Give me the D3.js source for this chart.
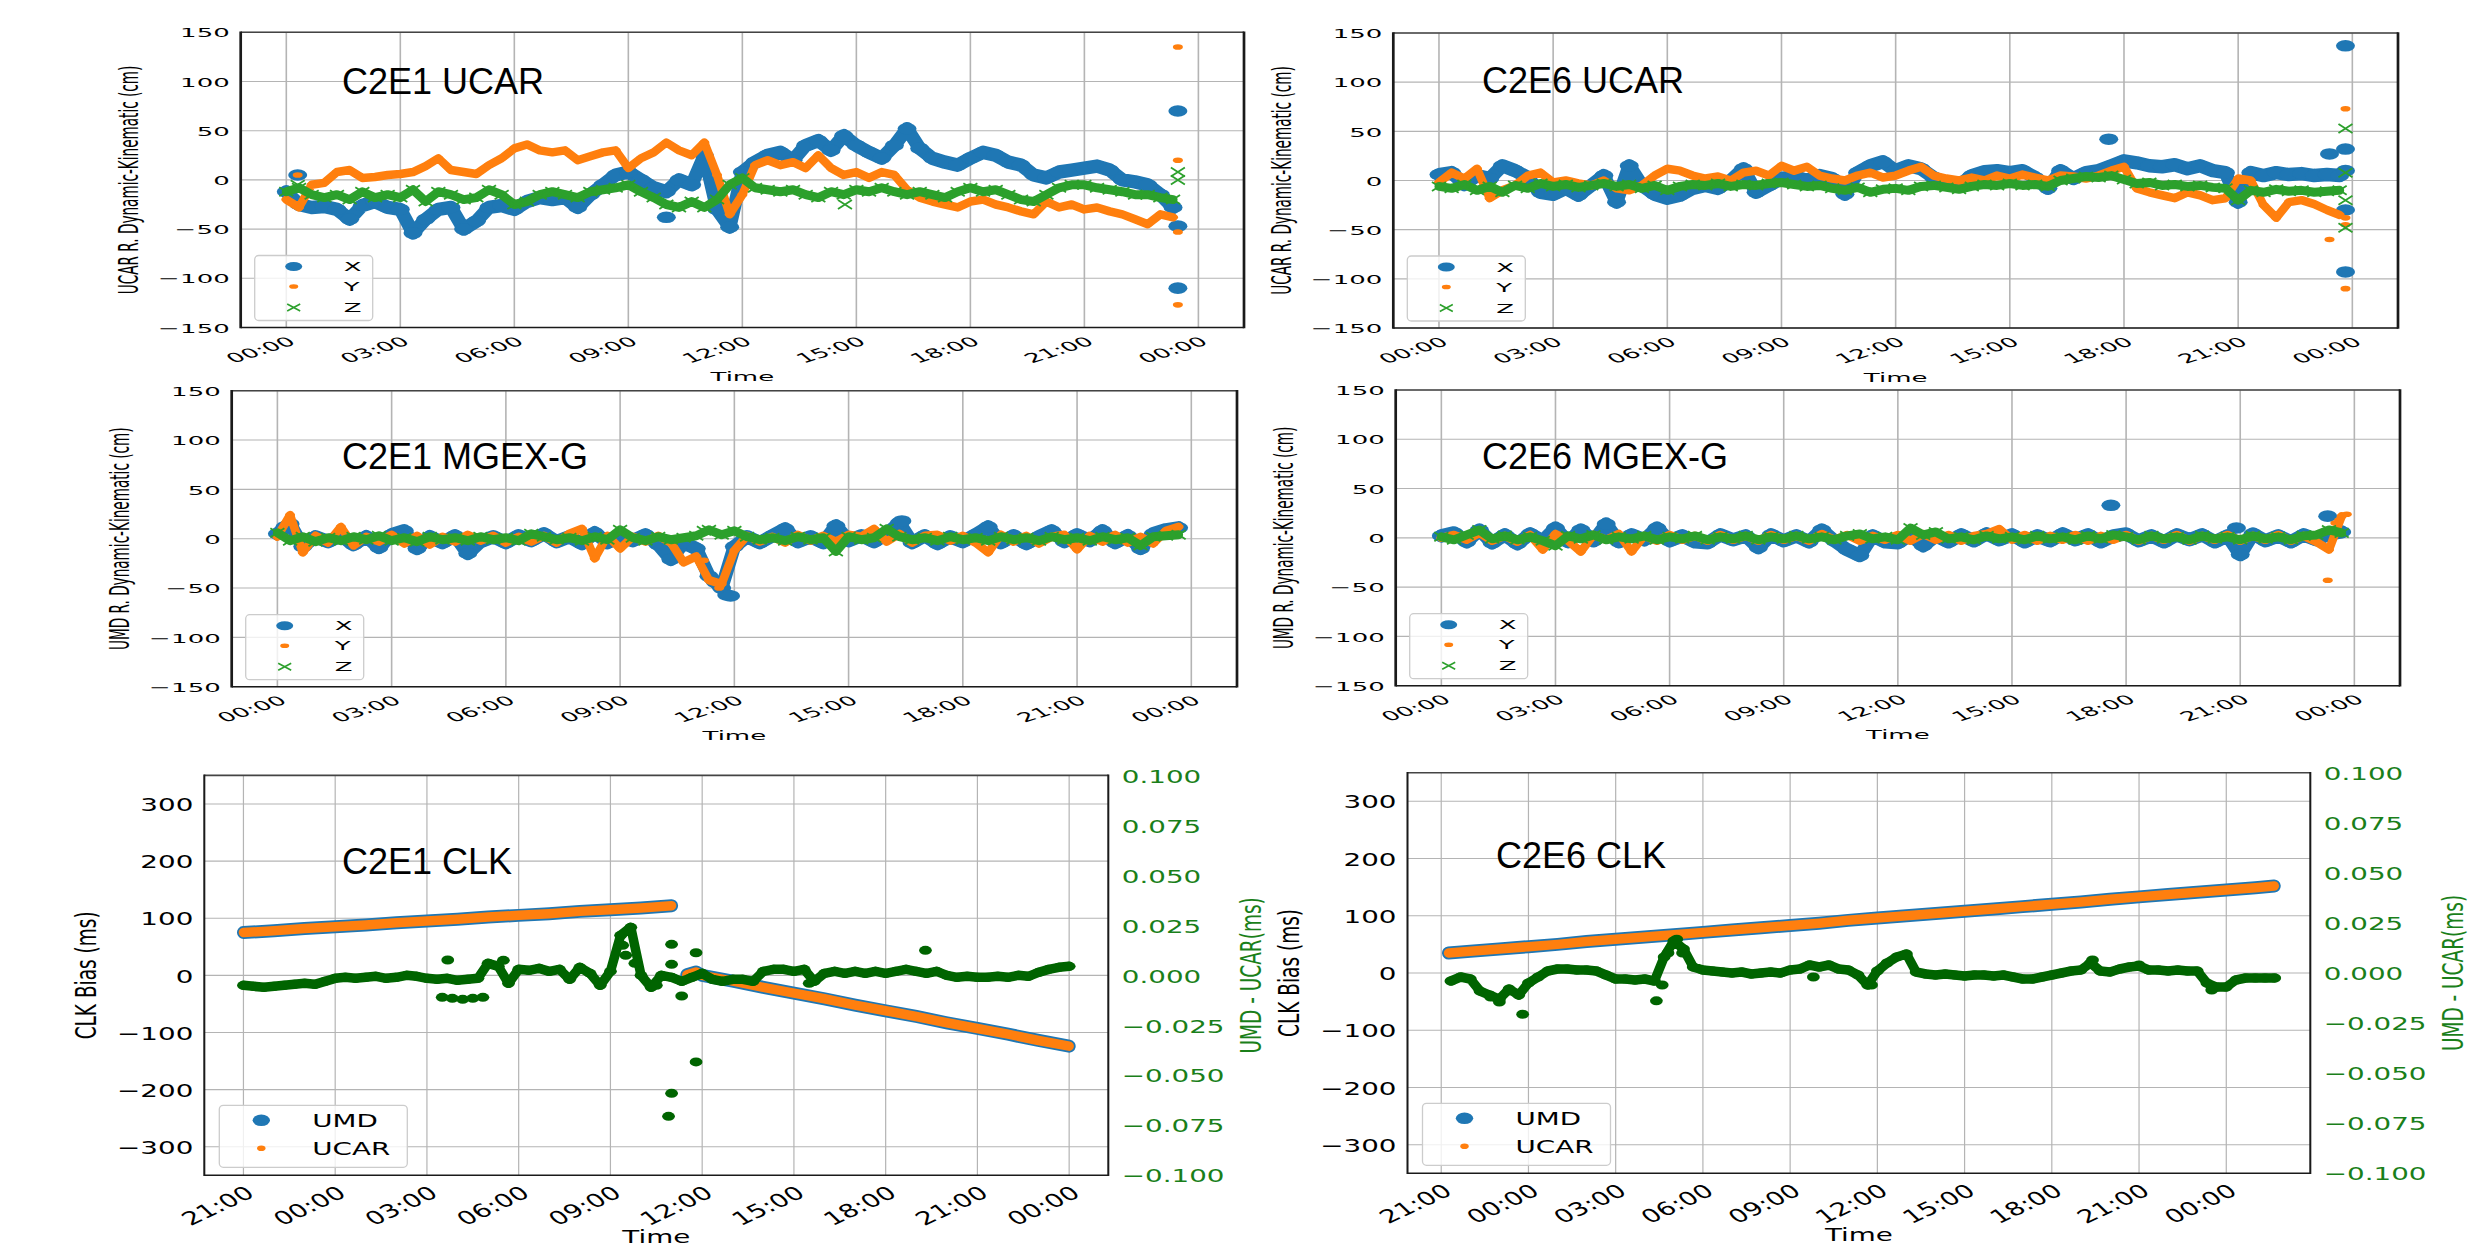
<!DOCTYPE html>
<html>
<head>
<meta charset="utf-8">
<script src="https://cdn.jsdelivr.net/npm/d3@7"></script>
<style>
  body { margin: 0; background: #fff; overflow: hidden; }
  svg { display: block; }
</style>
</head>
<body>
<script>
// ---------------- data ----------------
// orbit residuals: one sample every 20 min from 00:00 (cm)
const STEP_H = 1 / 3;

const c2e1UcarX = [-12, -25, -28, -27, -30, -40, -26, -22, -28, -30, -54, -40,
  -30, -28, -50, -42, -28, -26, -30, -22, -18, -20, -18, -28,
  -15, -5, 5, 8, 0, -8, -12, 0, -5, 25, -30, -48,
  8, 18, 25, 28, 20, 35, 40, 30, 45, 35, 28, 22,
  35, 52, 32, 22, 18, 15, 22, 28, 25, 18, 15, 5,
  2, 8, 10, 12, 14, 10, 0, -2, -5, -15, -28];
const c2e1UcarY = [-20, -28, -5, -3, 8, 10, 2, 3, 5, 6, 8, 14,
  22, 10, 8, 6, 15, 22, 32, 36, 30, 28, 30, 20,
  24, 28, 30, 12, 22, 28, 38, 30, 25, 38, 5, -35,
  -15, 15, 20, 15, 18, 12, 25, 12, 5, 8, 2, 8,
  5, -10, -18, -22, -25, -28, -22, -20, -25, -28, -32, -35,
  -22, -28, -25, -30, -28, -32, -35, -40, -45, -35, -38];
const c2e1UcarZ = [-12, -8, -15, -18, -15, -20, -12, -18, -15, -18, -10, -22,
  -12, -15, -20, -18, -10, -15, -25, -22, -15, -12, -15, -18,
  -12, -10, -8, -5, -12, -18, -25, -28, -22, -28, -20, -5,
  2, -8, -10, -12, -10, -15, -18, -12, -15, -10, -12, -8,
  -12, -15, -12, -15, -18, -12, -8, -12, -10, -15, -20, -22,
  -15, -8, -5, -5, -8, -10, -12, -15, -15, -18, -20];
// isolated points [hour, cm]
const c2e1UcarOutX = [[0.3, 5], [10.0, -38], [23.46, 70], [23.46, -47], [23.46, -110]];
const c2e1UcarOutY = [[0.3, 5], [23.46, 135], [23.46, 20], [23.46, -53], [23.46, -127]];
const c2e1UcarOutZ = [[0.3, -5], [14.7, -25], [23.46, 8], [23.46, 0]];

const c2e6UcarX = [6, 8, -4, 5, 2, 15, 10, 3, -12, -14, -8, -15,
  -5, 5, -22, 15, -5, -14, -18, -15, -8, -5, -8, 0,
  12, -12, -5, 2, 4, 0, 5, 2, -14, 8, 15, 19,
  10, 15, 12, 3, -3, -5, 5, 9, 10, 8, 10, 3,
  -8, 10, 2, 8, 10, 15, 20, 18, 15, 14, 16, 12,
  15, 10, 8, -22, 8, 5, 8, 6, 7, 5, 6, 5];
const c2e6UcarY = [-2, 8, 2, 12, -18, -10, -5, 5, 8, -2, 0, -3,
  -5, 0, -8, -10, -5, 5, 12, 10, 5, 2, 4, 0,
  8, 10, 5, 15, 10, 14, 5, 2, 0, 5, 8, 3,
  5, 10, 14, 5, 2, 0, 3, 0, 5, 2, 6, 3,
  0, 5, 4, 2, 5, 10, 14, -8, -12, -15, -18, -12,
  -15, -20, -18, 2, 0, -25, -38, -22, -20, -24, -30, -35];
const c2e6UcarZ = [-6, -8, -4, -10, -6, -12, -5, -8, -3, -6, -4, -7,
  -5, -3, -6, -4, -8, -5, -10, -6, -4, -5, -3, -6,
  -4, -5, -3, -2, -4, -6, -5, -8, -10, -7, -12, -9,
  -8, -10, -6, -5, -7, -9, -6, -4, -5, -3, -5, -4,
  -6, 0, 2, 4, 3, 5, 1, -3, -2, -5, -4, -6,
  -5, -7, -8, -20, -10, -12, -9, -11, -10, -12, -11, -10];
const c2e6UcarOutX = [[17.6, 42], [23.4, 27], [23.82, 137], [23.82, 32], [23.82, 10], [23.82, -30], [23.82, -93]];
const c2e6UcarOutY = [[23.4, -60], [23.82, 73], [23.82, -38], [23.82, -45], [23.82, -110]];
const c2e6UcarOutZ = [[23.82, 53], [23.82, 8], [23.82, -20], [23.82, -48]];

const c2e1MgexX = [5, 15, -8, 2, -3, 3, -6, 2, -9, 4, 8, -10,
  2, -4, 3, -15, -3, 2, -4, 3, -2, 5, -3, 2,
  -5, 6, -4, 3, -2, 4, -6, -21, -4, -10, -38, -50,
  -8, 2, -4, 3, 10, -3, 2, -4, 13, -2, 3, -3,
  5, 16, -4, 3, -5, 2, -3, 4, 12, -4, 3, -5,
  2, 8, -3, 4, -2, 8, -4, 3, -10, 5, 9, 11];
const c2e1MgexY = [2, 24, -14, 3, -4, 12, -7, 2, -3, 4, -5, 3,
  -6, 2, -3, 4, -2, 3, -4, 2, -3, 3, -4, 5,
  10, -20, 3, -10, 2, -3, 3, -4, -24, -18, -42, -46,
  -12, 3, -3, 2, -4, 4, -2, 3, -3, 4, 2, 10,
  -3, 5, -4, 3, 4, -2, 3, -4, -14, 4, -3, 3,
  -5, 2, 4, -11, 3, -3, 4, -4, 2, -5, 8, 12];
const c2e1MgexZ = [6, -2, 2, -3, 1, -2, 2, -1, 3, -2, 1, -3,
  2, -1, 1, -2, 2, -1, 1, -2, 5, 2, -1, 1,
  -2, 2, -1, 9, 1, -2, 2, -1, 1, 3, 9, 4,
  8, 2, -1, 1, -2, 2, -1, 1, -13, 2, -1, 1,
  10, 2, -1, 1, -2, 2, -1, 1, -2, 2, -1, 1,
  -2, 2, -1, 1, -2, 2, -1, 1, -7, 2, 3, 4];
const c2e1MgexOutX = [[0.2, 12], [11.5, -44], [11.8, -57], [11.9, -58], [16.4, 18]];
const c2e1MgexOutY = [[11.2, -22], [11.6, -50]];
const c2e1MgexOutZ = [[11.2, 8]];

const c2e6MgexX = [2, 5, -4, 8, -5, 3, -6, 4, -3, 10, -4, 8,
  -3, 14, -4, 3, -2, 10, -3, 2, -4, -5, 3, -2,
  2, -10, 3, -3, 2, -4, 8, -3, -12, -18, 2, -4,
  -5, 3, -8, 2, -4, 3, -3, 4, -2, 3, -4, 2,
  -3, 4, -2, 3, -4, 2, 4, -3, 2, -4, 3, -2,
  3, -4, 2, -17, 4, -3, 2, -4, 3, -2, 4, 6];
const c2e6MgexY = [0, 3, -2, 5, -3, 2, -4, 3, -12, 4, -3, -14,
  3, -2, 4, -14, 2, -3, 3, -2, 2, -3, 3, -2,
  2, -3, 3, -2, 2, -3, 4, -2, 3, -3, 2, -2,
  3, -3, 4, -2, 3, -3, 2, 4, 9, -2, 3, -3,
  2, -2, 3, -3, 2, -2, 3, -3, 2, -2, 3, -3,
  2, -2, 3, -3, 2, -2, 3, -3, 2, -4, -12, 22];
const c2e6MgexZ = [1, -2, 3, 8, -1, 2, -2, 1, -3, -8, 2, -1,
  3, -2, 1, -1, 2, -2, 1, -1, 2, -2, 1, -1,
  2, -2, 1, -1, 2, -1, 1, -2, 2, 4, -1, 1,
  -2, 10, 3, 6, -1, 1, -2, 2, -1, 1, -2, 2,
  -1, 1, -2, 2, -1, 3, 1, -2, 2, -1, 1, -2,
  2, -1, 1, -2, 2, -1, 1, -2, 2, 3, 8, 5];
const c2e6MgexOutX = [[17.6, 33], [20.9, 10], [23.3, 22]];
const c2e6MgexOutY = [[23.3, -43], [23.5, 15], [23.6, 18], [23.8, 24]];
const c2e6MgexOutZ = [];

// clock bias lines (ms), hours after 21:00 of the first day
const c2e1ClkHours1 = [0, 1, 2, 3, 4, 5, 6, 7, 8, 9, 10, 11, 12, 13, 14];
const c2e1ClkUmd1 = [75, 78, 82, 85, 88, 92, 95, 98, 102, 105, 108, 112, 115, 118, 122];
const c2e1ClkUcar1 = [75, 78, 82, 85, 88, 92, 95, 98, 102, 105, 108, 112, 115, 118, 122];
const c2e1ClkHours2 = [14.5, 14.8, 15, 16, 17, 18, 19, 20, 21, 22, 23, 24, 25, 26, 27];
const c2e1ClkUmd2 = [1, 6, 0, -10, -21, -31, -41, -52, -62, -72, -83, -93, -103, -114, -124];
const c2e1ClkUcar2 = [1, 6, 0, -10, -21, -31, -41, -52, -62, -72, -83, -93, -103, -114, -124];

const c2e6ClkHours = [0.25, 1, 2, 3, 4, 5, 6, 7, 8, 9, 10, 11, 12, 13, 14, 15,
  16, 17, 18, 19, 20, 21, 22, 23, 24, 25, 26, 27, 28, 28.65];
const c2e6ClkUmd = [35, 38, 42, 46, 50, 55, 59, 63, 67, 71, 75, 79, 83, 87, 92,
  96, 100, 104, 108, 112, 116, 120, 124, 129, 133, 137, 141, 145, 149, 152];
const c2e6ClkUcar = [35, 38, 42, 46, 50, 55, 59, 63, 67, 71, 75, 79, 83, 87, 92,
  96, 100, 104, 108, 112, 116, 120, 124, 129, 133, 137, 141, 145, 149, 152];

// UMD - UCAR difference (ms), one sample every 20 min
const c2e1ClkDiff = [-0.0050, -0.0055, -0.0060, -0.0055, -0.0050, -0.0045, -0.0040, -0.0045, -0.0030, -0.0015, -0.0010, -0.0015,
  -0.0010, -0.0005, -0.0015, -0.0010, 0.0000, -0.0005, -0.0015, -0.0020, -0.0015, -0.0025, -0.0020, -0.0015,
  0.0060, 0.0045, -0.0040, 0.0030, 0.0025, 0.0035, 0.0020, 0.0030, -0.0020, 0.0040, 0.0010, -0.0050,
  0.0020, 0.0200, 0.0240, 0.0000, -0.0060, 0.0000, -0.0010, -0.0030, -0.0010, 0.0010, -0.0020, -0.0030,
  -0.0020, -0.0020, -0.0030, 0.0020, 0.0030, 0.0030, 0.0020, 0.0030, -0.0030, 0.0010, 0.0020, 0.0010,
  0.0020, 0.0010, 0.0020, 0.0010, 0.0020, 0.0030, 0.0020, 0.0010, 0.0020, 0.0000, -0.0010, -0.0005,
  -0.0010, -0.0010, -0.0005, -0.0010, 0.0000, -0.0005, 0.0015, 0.0030, 0.0040, 0.0045];
const c2e1ClkDiffOut = [[6.68, 0.0077], [6.5, -0.0110], [6.83, -0.0115], [7.17, -0.0120], [7.5, -0.0115],
  [7.83, -0.0110], [8.5, 0.0075], [12.4, 0.015], [12.5, 0.010], [12.6, 0.022], [12.8, 0.006],
  [13.5, -0.005], [14.0, 0.0155], [14.0, 0.0055], [14.0, -0.059], [13.9, -0.0705], [14.33, -0.0103],
  [14.8, -0.0433], [14.8, 0.0113], [18.5, -0.004], [22.3, 0.0125]];

const c2e6ClkDiffStart = 1 / 3;
const c2e6ClkDiff = [-0.004, -0.002, -0.003, -0.009, -0.011, -0.013, -0.008, -0.011, -0.005, -0.002, 0.001, 0.002,
  0.002, 0.0015, 0.0015, 0.001, -0.001, -0.003, -0.003, -0.0035, -0.003, -0.004, 0.008, 0.016,
  0.012, 0.003, 0.0015, 0.001, 0.0005, 0.0, 0.0005, -0.0005, 0.0, 0.0005, 0.0, 0.0015,
  0.002, 0.004, 0.003, 0.004, 0.002, 0.0015, -0.001, -0.006, 0.001, 0.005, 0.008, 0.0095,
  0.0005, -0.0005, -0.001, -0.0005, -0.001, -0.0015, -0.001, -0.001, -0.0015, -0.001, -0.002, -0.003,
  -0.003, -0.002, -0.001, 0.0, 0.001, 0.0015, 0.005, 0.001, 0.0005, 0.002, 0.003, 0.0035,
  0.0015, 0.0015, 0.001, 0.0015, 0.001, 0.001, -0.005, -0.007, -0.007, -0.0035, -0.0025, -0.0025,
  -0.0025, -0.0025];
const c2e6ClkDiffOut = [[1.7, -0.012], [2.0, -0.0145], [2.8, -0.0206], [7.4, -0.0139], [7.6, -0.006],
  [7.8, 0.010], [8.1, 0.0169], [8.3, 0.010], [12.8, -0.002], [14.8, -0.006], [22.4, 0.0065],
  [24.0, 0.004], [26.5, -0.0085]];

const orbitYTicks = [-150, -100, -50, 0, 50, 100, 150];
const clkYTicks = [-300, -200, -100, 0, 100, 200, 300];
const diffYTicks = [-0.1, -0.075, -0.05, -0.025, 0, 0.025, 0.05, 0.075, 0.1];

// ---------------- drawing ----------------
const W = 2473, H = 1250;
const FONT = "'DejaVu Sans', sans-serif";
const TITLE_FONT = "'Liberation Sans', Arial, sans-serif";
const BLUE = "#1f77b4", ORANGE = "#ff7f0e", GREEN = "#2ca02c",
      DKGREEN = "#006400", LABEL_GREEN = "#1a7f1a", GRID = "#b4b4b4", SPINE = "#1a1a1a";

const svg = d3.select("body").append("svg").attr("width", W).attr("height", H);
svg.append("rect").attr("width", W).attr("height", H).attr("fill", "#fff");

const dayStart = new Date(2020, 0, 1, 0, 0);
const clkStart = new Date(2020, 0, 1, 21, 0);
const atHour = (base, h) => new Date(base.getTime() + h * 3600e3);
const series = (base, start, vals) => vals.map((v, i) => [atHour(base, start + i * STEP_H), v]);
const points = (base, list) => list.map(([h, v]) => [atHour(base, h), v]);

// the original figures were stretched sideways, so text and markers carry an x scale
const topStyle = {fs: 13, sx: 2.0, rot: 32, yPad: 11, xPad: 8, xlabelGap: 53.5, ylabelOff: 112};
const botStyle = {fs: 18.5, sx: 1.5, rot: 35, yPad: 11, xPad: 9, xlabelGap: 68, ylabelOff: 118};

function setupPanel(cfg) {
  const [x0, x1, y0, y1] = cfg.box;
  const g = svg.append("g");
  const x = d3.scaleTime()
      .domain([atHour(cfg.base, cfg.hours[0]), atHour(cfg.base, cfg.hours[1])])
      .range([x0, x1]);
  const y = d3.scaleLinear().domain(cfg.yDomain).range([y1, y0]);
  const xTicks = x.ticks(d3.timeHour.every(3));
  const st = cfg.style;

  g.append("g").selectAll("line").data(xTicks).join("line")
      .attr("x1", d => x(d)).attr("x2", d => x(d)).attr("y1", y0).attr("y2", y1)
      .attr("stroke", GRID).attr("stroke-width", 0.8 * st.sx);
  g.append("g").selectAll("line").data(cfg.yTicks).join("line")
      .attr("x1", x0).attr("x2", x1).attr("y1", d => y(d)).attr("y2", d => y(d))
      .attr("stroke", GRID).attr("stroke-width", 1.1);
  return {g, x, y, xTicks, cfg};
}

function finishPanel(p) {
  const {g, x, y, xTicks, cfg} = p;
  const [x0, x1, y0, y1] = cfg.box;
  const st = cfg.style;

  // spines
  const sp = g.append("g").attr("stroke", SPINE);
  sp.append("line").attr("x1", x0).attr("x2", x1).attr("y1", y0).attr("y2", y0).attr("stroke-width", 1.6).attr("stroke", "#444");
  sp.append("line").attr("x1", x0).attr("x2", x1).attr("y1", y1).attr("y2", y1).attr("stroke-width", 1.6);
  sp.append("line").attr("x1", x0).attr("x2", x0).attr("y1", y0 - 0.8).attr("y2", y1 + 0.8).attr("stroke-width", 1.35 * st.sx);
  sp.append("line").attr("x1", x1).attr("x2", x1).attr("y1", y0 - 0.8).attr("y2", y1 + 0.8).attr("stroke-width", 1.35 * st.sx);

  // x axis
  const ax = g.append("g").attr("transform", `translate(0,${y1})`)
      .call(d3.axisBottom(x).tickValues(xTicks).tickFormat(d3.timeFormat("%H:%M")).tickSize(0).tickPadding(0));
  ax.select(".domain").remove();
  ax.attr("font-family", FONT).attr("font-size", st.fs).style("color", "#000");
  ax.selectAll("text")
      .attr("x", 0).attr("y", 0).attr("dy", "0.75em").attr("text-anchor", "end")
      .attr("transform", `translate(0,${st.xPad}) scale(${st.sx},1) rotate(${-st.rot})`);

  // left y axis
  const ay = g.append("g").attr("transform", `translate(${x0},0)`)
      .call(d3.axisLeft(y).tickValues(cfg.yTicks).tickFormat(d3.format("d")).tickSize(0).tickPadding(0));
  ay.select(".domain").remove();
  ay.attr("font-family", FONT).attr("font-size", st.fs).style("color", "#000");
  ay.selectAll("text").attr("x", -st.yPad / st.sx).attr("dy", "0.36em")
      .attr("transform", `scale(${st.sx},1)`);

  // axis labels
  g.append("text").text("Time")
      .attr("transform", `translate(${(x0 + x1) / 2},${y1 + st.xlabelGap}) scale(${st.sx},1)`)
      .attr("text-anchor", "middle").attr("font-family", FONT).attr("font-size", st.fs);
  g.append("text").text(cfg.ylabel)
      .attr("transform", `translate(${x0 - st.ylabelOff},${(y0 + y1) / 2}) scale(${st.sx},1) rotate(-90)`)
      .attr("text-anchor", "middle").attr("dy", "0.35em")
      .attr("font-family", FONT).attr("font-size", cfg.ylabelFs || st.fs);

  // panel title typed over the plot
  g.append("text").text(cfg.title)
      .attr("x", cfg.titlePos[0]).attr("y", cfg.titlePos[1])
      .attr("font-family", TITLE_FONT).attr("font-size", 36).attr("fill", "#000");
}

// dense samples of the original merge into a band: trace them, then put markers on top
function band(g, pts, x, y, width, color) {
  g.append("path").attr("d", d3.line().x(d => x(d[0])).y(d => y(d[1]))(pts))
      .attr("fill", "none").attr("stroke", color).attr("stroke-width", width)
      .attr("stroke-linejoin", "round").attr("stroke-linecap", "round");
}
function dots(g, pts, x, y, rx, ry, color) {
  g.append("g").selectAll("ellipse").data(pts).join("ellipse")
      .attr("cx", d => x(d[0])).attr("cy", d => y(d[1]))
      .attr("rx", rx).attr("ry", ry).attr("fill", color);
}
function crosses(g, pts, x, y, a, b, color) {
  g.append("g").selectAll("path").data(pts).join("path")
      .attr("transform", d => `translate(${x(d[0])},${y(d[1])})`)
      .attr("d", `M${-a},${-b}L${a},${b}M${-a},${b}L${a},${-b}`)
      .attr("stroke", color).attr("stroke-width", 1.8).attr("fill", "none");
}

function legendBox(g, bx, by, bw, bh) {
  g.append("rect").attr("x", bx).attr("y", by).attr("width", bw).attr("height", bh)
      .attr("rx", 4).attr("fill", "#fff").attr("fill-opacity", 0.8)
      .attr("stroke", "#cccccc").attr("stroke-width", 1.3);
}

// ---------- orbit panels ----------
function orbitPanel(cfg, X, Y, Z, outX, outY, outZ) {
  const p = setupPanel(cfg);
  const {g, x, y} = p;
  const [x0, , , y1] = cfg.box;
  const sX = series(cfg.base, 0, X), sY = series(cfg.base, 0, Y), sZ = series(cfg.base, 0, Z);
  band(g, sX, x, y, 13.5, BLUE);
  dots(g, sX.concat(points(cfg.base, outX)), x, y, 9.5, 5.8, BLUE);
  band(g, sY, x, y, 8.5, ORANGE);
  dots(g, sY.concat(points(cfg.base, outY)), x, y, 5, 2.8, ORANGE);
  band(g, sZ, x, y, 9, GREEN);
  crosses(g, sZ.concat(points(cfg.base, outZ)), x, y, 7, 4.5, GREEN);
  finishPanel(p);

  const lg = g.append("g");
  legendBox(lg, x0 + 14, y1 - 72, 118, 65);
  const rows = [y1 - 61, y1 - 41, y1 - 20];
  lg.append("ellipse").attr("cx", x0 + 53).attr("cy", rows[0]).attr("rx", 8.5).attr("ry", 4.5).attr("fill", BLUE);
  lg.append("ellipse").attr("cx", x0 + 53).attr("cy", rows[1]).attr("rx", 4.5).attr("ry", 2.3).attr("fill", ORANGE);
  lg.append("path").attr("transform", `translate(${x0 + 53},${rows[2]})`)
      .attr("d", "M-6.5,-3.5L6.5,3.5M-6.5,3.5L6.5,-3.5").attr("stroke", GREEN).attr("stroke-width", 1.6);
  ["X", "Y", "Z"].forEach((t, i) => {
    lg.append("text").text(t)
        .attr("transform", `translate(${x0 + 103},${rows[i]}) scale(${topStyle.sx},1)`)
        .attr("dy", "0.36em").attr("font-family", FONT).attr("font-size", topStyle.fs);
  });
}

const orbitHours = [-1.2, 25.2];
orbitPanel({box: [240.7, 1244, 32.3, 327.5], base: dayStart, hours: orbitHours, yDomain: [-150, 150],
  yTicks: orbitYTicks, style: topStyle, ylabel: "UCAR R. Dynamic-Kinematic (cm)", ylabelFs: 13.6,
  title: "C2E1 UCAR", titlePos: [342, 94]},
  c2e1UcarX, c2e1UcarY, c2e1UcarZ, c2e1UcarOutX, c2e1UcarOutY, c2e1UcarOutZ);
orbitPanel({box: [1393.3, 2398, 33, 328], base: dayStart, hours: orbitHours, yDomain: [-150, 150],
  yTicks: orbitYTicks, style: topStyle, ylabel: "UCAR R. Dynamic-Kinematic (cm)", ylabelFs: 13.6,
  title: "C2E6 UCAR", titlePos: [1482, 93]},
  c2e6UcarX, c2e6UcarY, c2e6UcarZ, c2e6UcarOutX, c2e6UcarOutY, c2e6UcarOutZ);
orbitPanel({box: [231.7, 1237, 390.7, 686.7], base: dayStart, hours: orbitHours, yDomain: [-150, 150],
  yTicks: orbitYTicks, style: topStyle, ylabel: "UMD R. Dynamic-Kinematic (cm)", ylabelFs: 13.6,
  title: "C2E1 MGEX-G", titlePos: [342, 469]},
  c2e1MgexX, c2e1MgexY, c2e1MgexZ, c2e1MgexOutX, c2e1MgexOutY, c2e1MgexOutZ);
orbitPanel({box: [1395.7, 2400, 390, 685.7], base: dayStart, hours: orbitHours, yDomain: [-150, 150],
  yTicks: orbitYTicks, style: topStyle, ylabel: "UMD R. Dynamic-Kinematic (cm)", ylabelFs: 13.6,
  title: "C2E6 MGEX-G", titlePos: [1482, 469]},
  c2e6MgexX, c2e6MgexY, c2e6MgexZ, c2e6MgexOutX, c2e6MgexOutY, c2e6MgexOutZ);

// ---------- clock panels ----------
function clkPanel(cfg, segs, diffSeries, diffOut) {
  const p = setupPanel(cfg);
  const {g, x, y} = p;
  const [x0, x1, y0, y1] = cfg.box;
  const line = d3.line().x(d => x(d[0])).y(d => y(d[1]));

  segs.forEach(s => {
    const umd = s.hours.map((h, i) => [atHour(cfg.base, h), s.umd[i]]);
    const ucar = s.hours.map((h, i) => [atHour(cfg.base, h), s.ucar[i]]);
    g.append("path").attr("d", line(umd)).attr("fill", "none").attr("stroke", BLUE)
        .attr("stroke-width", 13).attr("stroke-linecap", "round").attr("stroke-linejoin", "round");
    g.append("path").attr("d", line(ucar)).attr("fill", "none").attr("stroke", ORANGE)
        .attr("stroke-width", 9.5).attr("stroke-linecap", "round").attr("stroke-linejoin", "round");
  });

  // twin axis with the difference series
  const y2 = d3.scaleLinear().domain([-0.1, 0.1]).range([y1, y0]);
  band(g, diffSeries, x, y2, 9.5, DKGREEN);
  dots(g, diffSeries.concat(diffOut), x, y2, 6.4, 4.5, DKGREEN);

  finishPanel(p);

  const st = cfg.style;
  const ar = g.append("g").attr("transform", `translate(${x1},0)`)
      .call(d3.axisRight(y2).tickValues(diffYTicks).tickFormat(d3.format(".3f")).tickSize(0).tickPadding(0));
  ar.select(".domain").remove();
  ar.attr("font-family", FONT).attr("font-size", st.fs).style("color", LABEL_GREEN);
  ar.selectAll("text").attr("x", 13.5 / st.sx).attr("dy", "0.36em")
      .attr("transform", `scale(${st.sx},1)`);
  g.append("text").text("UMD - UCAR(ms)")
      .attr("transform", `translate(${x1 + 142.5},${(y0 + y1) / 2}) scale(${st.sx},1) rotate(-90)`)
      .attr("text-anchor", "middle").attr("dy", "0.35em").attr("fill", LABEL_GREEN)
      .attr("font-family", FONT).attr("font-size", st.fs);

  const lg = g.append("g");
  legendBox(lg, x0 + 15, y1 - 70, 188, 62);
  lg.append("ellipse").attr("cx", x0 + 57).attr("cy", y1 - 55).attr("rx", 8.7).attr("ry", 5.8).attr("fill", BLUE);
  lg.append("ellipse").attr("cx", x0 + 57).attr("cy", y1 - 27).attr("rx", 4.2).attr("ry", 2.8).attr("fill", ORANGE);
  [["UMD", y1 - 55], ["UCAR", y1 - 27]].forEach(([t, yy]) => {
    lg.append("text").text(t)
        .attr("transform", `translate(${x0 + 108},${yy}) scale(${st.sx},1)`)
        .attr("dy", "0.36em").attr("font-family", FONT).attr("font-size", st.fs);
  });
}

clkPanel({box: [204.3, 1108.3, 775.4, 1175.3], base: clkStart, hours: [-1.28, 28.28], yDomain: [-350, 350],
  yTicks: clkYTicks, style: botStyle, ylabel: "CLK Bias (ms)", title: "C2E1 CLK", titlePos: [342, 874]},
  [{hours: c2e1ClkHours1, umd: c2e1ClkUmd1, ucar: c2e1ClkUcar1},
   {hours: c2e1ClkHours2, umd: c2e1ClkUmd2, ucar: c2e1ClkUcar2}],
  series(clkStart, 0, c2e1ClkDiff), points(clkStart, c2e1ClkDiffOut));

clkPanel({box: [1407.5, 2310.3, 772.7, 1173.3], base: clkStart, hours: [-1.16, 29.89], yDomain: [-350, 350],
  yTicks: clkYTicks, style: botStyle, ylabel: "CLK Bias (ms)", title: "C2E6 CLK", titlePos: [1496, 868]},
  [{hours: c2e6ClkHours, umd: c2e6ClkUmd, ucar: c2e6ClkUcar}],
  series(clkStart, c2e6ClkDiffStart, c2e6ClkDiff), points(clkStart, c2e6ClkDiffOut));
</script>
</body>
</html>
